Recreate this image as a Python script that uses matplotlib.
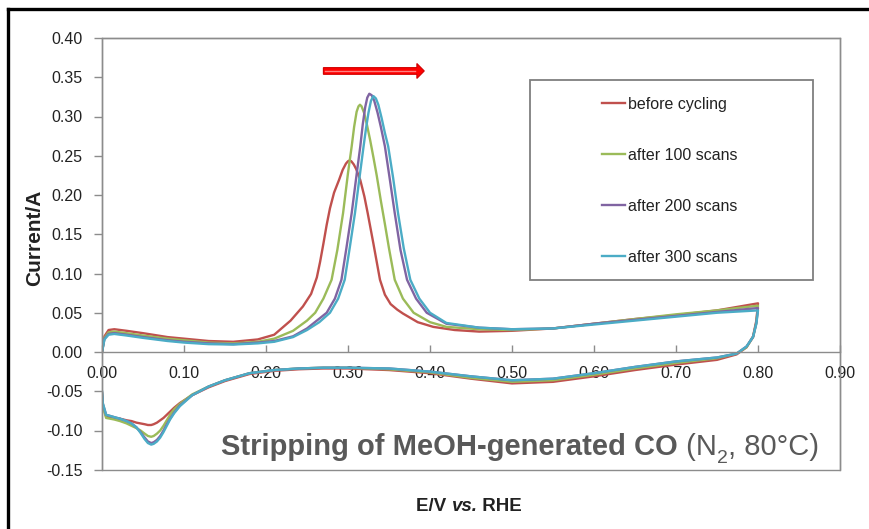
import numpy as np
import matplotlib.pyplot as plt
from matplotlib.patches import Rectangle, FancyArrow
from matplotlib.lines import Line2D
from matplotlib.ticker import MultipleLocator, FormatStrFormatter

plt.rcParams["font.family"] = ["Liberation Sans", "DejaVu Sans"]

# ---- CO stripping voltammograms (E in V vs RHE, current in A) ----
labels = ["before cycling", "after 100 scans", "after 200 scans", "after 300 scans"]
colors = ["#C0504D", "#9BBB59", "#8064A2", "#4BACC6"]

# anodic sweeps, 0.0 -> 0.8 V
e_anodic_0 = [0.000, 0.003, 0.008, 0.015, 0.03, 0.05, 0.08, 0.10, 0.13, 0.16, 0.19, 0.21,
              0.23, 0.245, 0.255, 0.262, 0.266, 0.270, 0.274, 0.278, 0.283, 0.289, 0.2935,
              0.2975, 0.300, 0.302, 0.304, 0.307, 0.310, 0.315, 0.320, 0.324, 0.331, 0.339,
              0.345, 0.352, 0.360, 0.367, 0.385, 0.404, 0.43, 0.46, 0.50, 0.55, 0.60, 0.65,
              0.70, 0.75, 0.80]
i_anodic_0 = [0.000, 0.020, 0.028, 0.029, 0.027, 0.024, 0.019, 0.017, 0.014, 0.013, 0.016, 0.022,
              0.040, 0.058, 0.074, 0.095, 0.115, 0.138, 0.162, 0.183, 0.203, 0.219, 0.232,
              0.240, 0.243, 0.244, 0.243, 0.239, 0.233, 0.219, 0.198, 0.177, 0.138, 0.092,
              0.073, 0.061, 0.054, 0.049, 0.038, 0.032, 0.028, 0.026, 0.027, 0.030, 0.036, 0.042,
              0.047, 0.053, 0.062]

e_anodic_100 = [0.000, 0.003, 0.008, 0.015, 0.03, 0.05, 0.08, 0.10, 0.13, 0.16, 0.19, 0.21,
                0.233, 0.25, 0.26, 0.270, 0.280, 0.287, 0.294, 0.300, 0.3045, 0.3075, 0.3105,
                0.3128, 0.3146, 0.3165, 0.3195, 0.323, 0.327, 0.331, 0.335, 0.340, 0.345, 0.350,
                0.357, 0.367, 0.380, 0.40, 0.42, 0.46, 0.50, 0.55, 0.60, 0.65, 0.70, 0.75, 0.80]
i_anodic_100 = [0.000, 0.018, 0.025, 0.026, 0.024, 0.021, 0.017, 0.015, 0.012, 0.011, 0.013, 0.017,
                0.027, 0.040, 0.050, 0.068, 0.092, 0.130, 0.177, 0.228, 0.262, 0.287, 0.306,
                0.313, 0.315, 0.313, 0.305, 0.290, 0.270, 0.248, 0.225, 0.193, 0.163, 0.132,
                0.092, 0.068, 0.050, 0.038, 0.032, 0.029, 0.028, 0.030, 0.036, 0.042, 0.048, 0.053, 0.059]

e_anodic_200 = [0.000, 0.003, 0.008, 0.015, 0.03, 0.05, 0.08, 0.10, 0.13, 0.16, 0.19, 0.21,
                0.233, 0.25, 0.262, 0.274, 0.284, 0.292, 0.298, 0.3045, 0.310, 0.315, 0.318,
                0.321, 0.3235, 0.326, 0.329, 0.332, 0.336, 0.340, 0.345, 0.351, 0.357, 0.364,
                0.372, 0.383, 0.396, 0.42, 0.46, 0.50, 0.55, 0.60, 0.65, 0.70, 0.75, 0.80]
i_anodic_200 = [0.000, 0.017, 0.023, 0.024, 0.022, 0.019, 0.015, 0.013, 0.011, 0.010, 0.012, 0.014,
                0.020, 0.030, 0.040, 0.050, 0.068, 0.092, 0.132, 0.177, 0.222, 0.262, 0.290,
                0.312, 0.324, 0.329, 0.327, 0.320, 0.305, 0.287, 0.262, 0.220, 0.177, 0.130,
                0.092, 0.068, 0.050, 0.036, 0.031, 0.029, 0.030, 0.036, 0.041, 0.046, 0.051, 0.056]

e_anodic_300 = [0.000, 0.003, 0.008, 0.015, 0.03, 0.05, 0.08, 0.10, 0.13, 0.16, 0.19, 0.21,
                0.233, 0.25, 0.265, 0.278, 0.288, 0.296, 0.302, 0.3085, 0.314, 0.319, 0.322,
                0.325, 0.328, 0.331, 0.334, 0.337, 0.341, 0.345, 0.349, 0.355, 0.361, 0.368,
                0.376, 0.387, 0.40, 0.42, 0.46, 0.50, 0.55, 0.60, 0.65, 0.70, 0.75, 0.80]
i_anodic_300 = [0.000, 0.016, 0.022, 0.023, 0.021, 0.018, 0.014, 0.012, 0.010, 0.0095, 0.011, 0.013,
                0.019, 0.028, 0.038, 0.050, 0.068, 0.092, 0.132, 0.177, 0.222, 0.262, 0.285,
                0.305, 0.320, 0.326, 0.323, 0.315, 0.298, 0.279, 0.262, 0.222, 0.177, 0.132,
                0.092, 0.068, 0.050, 0.037, 0.031, 0.029, 0.030, 0.035, 0.040, 0.045, 0.050, 0.053]

# cathodic sweeps, 0.8 -> 0.0 V (common potential grid)
e_cathodic = [0.80, 0.798, 0.794, 0.786, 0.774, 0.75, 0.70, 0.65, 0.60, 0.55, 0.50, 0.45,
              0.40, 0.35, 0.30, 0.27, 0.24, 0.21, 0.18, 0.15, 0.13, 0.11, 0.095, 0.088,
              0.083, 0.079, 0.075, 0.071, 0.067, 0.063, 0.060, 0.056, 0.052, 0.047, 0.042,
              0.036, 0.030, 0.022, 0.015, 0.005, 0.001, 0.000]
i_cathodic_0 = [0.062, 0.040, 0.020, 0.006, -0.003, -0.010, -0.016, -0.023, -0.031, -0.038, -0.040, -0.034,
                -0.027, -0.023, -0.021, -0.021, -0.022, -0.024, -0.028, -0.037, -0.045, -0.055, -0.065, -0.071,
                -0.076, -0.080, -0.084, -0.087, -0.090, -0.092, -0.093, -0.093, -0.092, -0.091, -0.090,
                -0.088, -0.087, -0.085, -0.084, -0.082, -0.068, -0.052]
i_cathodic_100 = [0.059, 0.038, 0.019, 0.006, -0.002, -0.008, -0.014, -0.021, -0.029, -0.036, -0.038, -0.033,
                  -0.026, -0.022, -0.020, -0.020, -0.021, -0.023, -0.027, -0.036, -0.044, -0.054, -0.066, -0.073,
                  -0.080, -0.087, -0.094, -0.100, -0.104, -0.107, -0.108, -0.107, -0.104, -0.100, -0.097,
                  -0.094, -0.091, -0.088, -0.086, -0.084, -0.070, -0.052]
i_cathodic_200 = [0.056, 0.037, 0.019, 0.007, -0.002, -0.007, -0.012, -0.019, -0.027, -0.034, -0.036, -0.031,
                  -0.025, -0.021, -0.020, -0.020, -0.021, -0.023, -0.027, -0.036, -0.044, -0.055, -0.068, -0.077,
                  -0.085, -0.092, -0.100, -0.107, -0.112, -0.115, -0.116, -0.114, -0.109, -0.102, -0.096,
                  -0.091, -0.088, -0.085, -0.083, -0.080, -0.066, -0.051]
i_cathodic_300 = [0.053, 0.036, 0.0195, 0.007, -0.002, -0.007, -0.012, -0.019, -0.027, -0.034, -0.036, -0.031,
                  -0.025, -0.021, -0.020, -0.020, -0.021, -0.023, -0.027, -0.036, -0.044, -0.055, -0.069, -0.078,
                  -0.086, -0.094, -0.102, -0.109, -0.114, -0.117, -0.118, -0.116, -0.111, -0.103, -0.096,
                  -0.091, -0.088, -0.085, -0.083, -0.080, -0.065, -0.050]

anodic = [(e_anodic_0, i_anodic_0), (e_anodic_100, i_anodic_100),
          (e_anodic_200, i_anodic_200), (e_anodic_300, i_anodic_300)]
cathodic = [i_cathodic_0, i_cathodic_100, i_cathodic_200, i_cathodic_300]

GRAY = "#8C8C8C"
TXT = "#222222"

fig = plt.figure(figsize=(8.7, 5.29), dpi=100)
W, H = 870.0, 529.0
ax = fig.add_axes([102 / W, 1 - 469.75 / H, 738 / W, 431.75 / H])

for (ea, ia), ic, c, lab in zip(anodic, cathodic, colors, labels):
    e = np.concatenate([ea, e_cathodic])
    i = np.concatenate([ia, ic])
    ax.plot(e, i, color=c, lw=1.7, label=lab, solid_joinstyle="round")

ax.set_xlim(0, 0.9)
ax.set_ylim(-0.15, 0.40)

# plot-area frame, x axis crossing at zero current
for side in ["left", "top", "right", "bottom"]:
    ax.spines[side].set_color(GRAY)
    ax.spines[side].set_linewidth(1.0)
ax.spines["bottom"].set_position(("data", 0))
ax.add_patch(Rectangle((0, 0), 1, 1, transform=ax.transAxes, fill=False,
                       ec=GRAY, lw=1.0, clip_on=False, zorder=0))

ax.xaxis.set_major_locator(MultipleLocator(0.1))
ax.yaxis.set_major_locator(MultipleLocator(0.05))
ax.xaxis.set_major_formatter(FormatStrFormatter("%.2f"))
ax.yaxis.set_major_formatter(FormatStrFormatter("%.2f"))
ax.tick_params(axis="x", direction="in", length=5, width=1, color=GRAY,
               labelsize=11.5, labelcolor=TXT, pad=10)
ax.tick_params(axis="y", direction="out", length=6, width=1, color=GRAY,
               labelsize=11.5, labelcolor=TXT, pad=8)

# scan direction arrow
ax.add_patch(FancyArrow(0.270, 0.358, 0.114, 0, width=0.0085, head_width=0.019,
                        head_length=0.009, length_includes_head=False,
                        fc="#FF0000", ec="#D00000", lw=0.8, zorder=5))
ax.plot([0.272, 0.382], [0.358, 0.358], color="#FF8080", lw=1.0, zorder=6)

# legend in its own box
ax.add_patch(Rectangle(((530 - 102) / 738, (469.75 - 280) / 431.75), 283 / 738, 200 / 431.75,
                       transform=ax.transAxes, fill=False, ec="#7F7F7F", lw=1.3, zorder=4))
leg = ax.legend(loc="upper left", bbox_to_anchor=((602 - 102) / 738, (469.75 - 97) / 431.75),
                frameon=False, fontsize=11.5, handlelength=1.45, handletextpad=0.2,
                labelspacing=2.25, borderpad=0, borderaxespad=0)
for t in leg.get_texts():
    t.set_color(TXT)
for h in leg.legend_handles:
    h.set_linewidth(1.7)

# annotation: bold part, then regular part with subscript
ann_kw = dict(color="#595959", fontsize=21, annotation_clip=False)
t1 = ax.annotate("Stripping of MeOH-generated CO", xy=((221 - 102) / 738, (469.75 - 461) / 431.75),
                 xycoords="axes fraction", ha="left", va="bottom", fontweight="bold", **ann_kw)
t2 = ax.annotate(" (N", xy=(1, 0), xycoords=t1, ha="left", va="bottom", **ann_kw)
t3 = ax.annotate("2", xy=(1, 0), xycoords=t2, xytext=(0.3, -4), textcoords="offset points",
                 ha="left", va="bottom", color="#595959", fontsize=14, annotation_clip=False)
ax.annotate(", 80°C)", xy=(1, 0), xycoords=(t3, t2), xytext=(0.3, 0), textcoords="offset points",
            ha="left", va="bottom", **ann_kw)

# axis titles
fig.text(35 / W, 1 - 238 / H, "Current/A", rotation=90, ha="center", va="center",
         fontsize=15, fontweight="bold", color=TXT)
lab_kw = dict(fontsize=13.5, fontweight="bold", color=TXT, annotation_clip=False)
x1 = ax.annotate("E/V ", xy=(416 / W, 1 - 515 / H), xycoords="figure fraction",
                 ha="left", va="bottom", **lab_kw)
x2 = ax.annotate("vs.", xy=(1, 0), xycoords=x1, ha="left", va="bottom", style="italic", **lab_kw)
ax.annotate(" RHE", xy=(1, 0), xycoords=x2, ha="left", va="bottom", **lab_kw)

# outer frame
fig.add_artist(Line2D([8.5 / W, 8.5 / W], [0, 1 - 8.5 / H], color="black", lw=2.4,
                      transform=fig.transFigure))
fig.add_artist(Line2D([8.5 / W, 1], [1 - 8.5 / H, 1 - 8.5 / H], color="black", lw=2.4,
                      transform=fig.transFigure))

fig.savefig("out.png", dpi=100)
